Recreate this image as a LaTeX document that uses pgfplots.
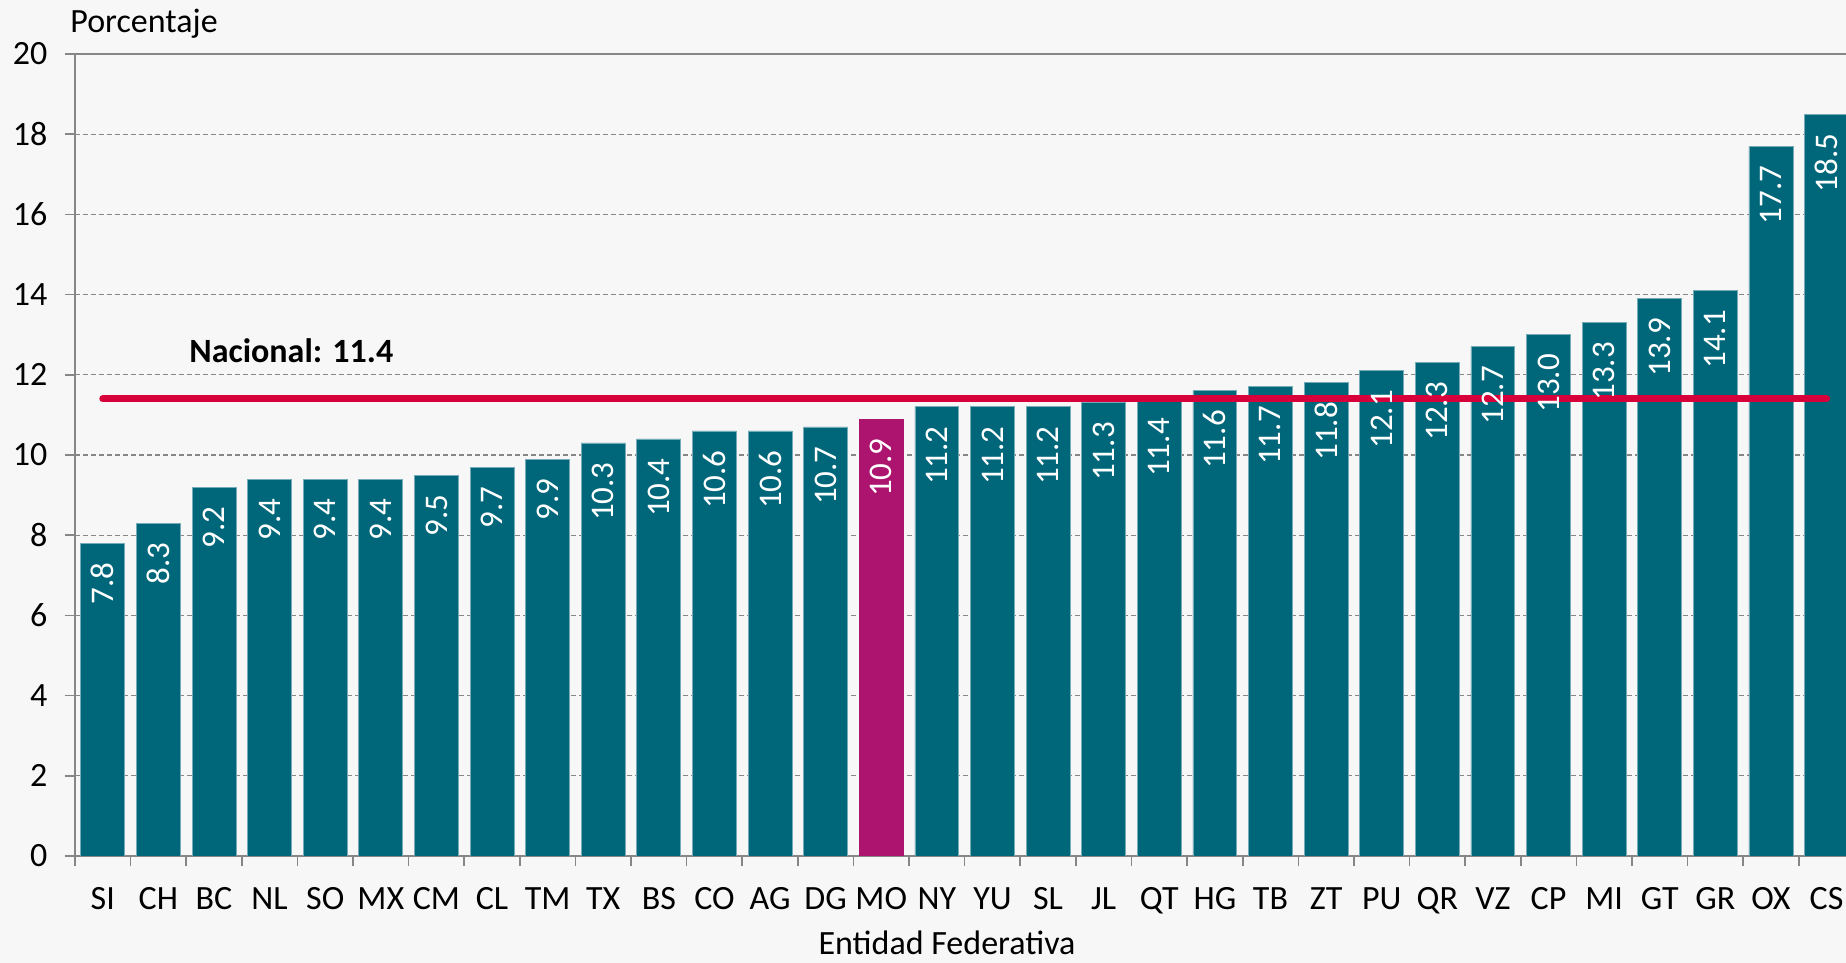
\documentclass[border=0pt]{standalone}
\usepackage{fontspec}
\setmainfont{Carlito}
\usepackage{pgfplots}
\pgfplotsset{compat=1.18}
\usepackage{pgfplotstable}
\definecolor{bg}{HTML}{F7F7F7}
\definecolor{barteal}{HTML}{00677A}
\definecolor{mag}{HTML}{AD1470}
\definecolor{natred}{HTML}{D8003A}
\definecolor{axgray}{HTML}{868686}

\pgfplotstableread{
x y
0 7.8
1 8.3
2 9.2
3 9.4
4 9.4
5 9.4
6 9.5
7 9.7
8 9.9
9 10.3
10 10.4
11 10.6
12 10.6
13 10.7
14 10.9
15 11.2
16 11.2
17 11.2
18 11.3
19 11.4
20 11.6
21 11.7
22 11.8
23 12.1
24 12.3
25 12.7
26 13.0
27 13.3
28 13.9
29 14.1
30 17.7
31 18.5
}\alldata

\pgfplotstableread{
x y
0 7.8
1 8.3
2 9.2
3 9.4
4 9.4
5 9.4
6 9.5
7 9.7
8 9.9
9 10.3
10 10.4
11 10.6
12 10.6
13 10.7
15 11.2
16 11.2
17 11.2
18 11.3
19 11.4
20 11.6
21 11.7
22 11.8
23 12.1
24 12.3
25 12.7
26 13.0
27 13.3
28 13.9
29 14.1
30 17.7
31 18.5
}\tealdata

\pgfplotstableread{
x y
14 10.9
}\modata

\begin{document}
\fontsize{17}{20}\selectfont
\begin{tikzpicture}
\fill[bg, use as bounding box] (-37.5pt,-53.5pt) rectangle (885.5pt,428pt);
\begin{axis}[
  at={(0,0)}, anchor=south west,
  scale only axis, width=885.5pt, height=401pt,
  xmin=-0.5, xmax=31.35, ymin=0, ymax=20,
  axis x line*=bottom, axis y line*=left,
  axis line style={axgray, line width=0.8pt},
  tick align=outside,
  xtick={0,...,31},
  xticklabels={SI,CH,BC,NL,SO,MX,CM,CL,TM,TX,BS,CO,AG,DG,MO,NY,YU,SL,JL,QT,HG,TB,ZT,PU,QR,VZ,CP,MI,GT,GR,OX,CS},
  major x tick style={draw=none},
  minor xtick={-0.5,0.5,...,31.5},
  minor x tick style={axgray, line width=0.8pt},
  minor tick length=5pt,
  ytick={0,2,...,20},
  major y tick style={axgray, line width=0.8pt},
  major tick length=5pt,
  ymajorgrids,
  grid style={axgray, line width=0.6pt, dash pattern=on 2.5pt off 1.5pt},
  /pgf/number format/assume math mode=true,
  tick label style={font=\fontsize{17}{20}\selectfont, black},
  yticklabel style={xshift=-3pt},
  xticklabel style={yshift=-5pt},
]
\addplot[ybar, bar width=0.79, bar shift=0pt, fill=barteal, draw=barteal!55!white, line width=0.4pt] table {\tealdata};
\addplot[ybar, bar width=0.79, bar shift=0pt, fill=mag, draw=mag, line width=0.4pt] table {\modata};
\addplot[natred, line width=3.5pt, line cap=round, sharp plot, mark=none] coordinates {(0,11.4) (31,11.4)};
\addplot[ybar, bar width=0.79, bar shift=0pt, draw=none, fill=none,
  nodes near coords={\pgfmathprintnumber[fixed,fixed zerofill,precision=1]{\pgfplotspointmeta}},
  every node near coord/.append style={rotate=90, anchor=east, white, font=\fontsize{16.5}{19}\selectfont, inner xsep=9.5pt, inner ysep=0pt}] table {\alldata};
\draw[axgray, line width=0.8pt] (axis cs:-0.5,20) -- (rel axis cs:1,1);
\node[anchor=base, font=\bfseries\fontsize{17}{20}\selectfont] at (axis cs:3.39,12.3) {Nacional: 11.4};
\end{axis}
\node[anchor=base west, inner sep=0pt] at (-2.5pt,411.5pt) {Porcentaje};
\node[anchor=base, inner sep=0pt] at (436pt,-49pt) {Entidad Federativa};
\end{tikzpicture}
\end{document}
